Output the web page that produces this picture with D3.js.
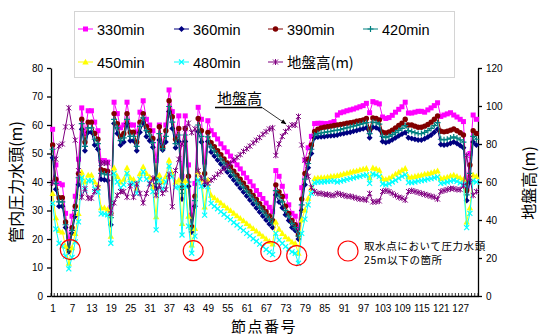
<!DOCTYPE html>
<html><head><meta charset="utf-8">
<script src="https://cdn.jsdelivr.net/npm/d3@7"></script>
<style>
body{margin:0;background:#fff;}
svg{display:block;}
text{font-family:"Liberation Sans",Arial,sans-serif;fill:#000;}
.jp{font-family:"Noto Sans CJK JP","Noto Sans",sans-serif;}
</style></head><body>
<svg id="chart" width="542" height="336"></svg>
<script>
// 節点番号 1..132
const nodes = d3.range(1, 133);
const xTickLabels = [1,7,13,19,25,31,37,43,49,55,61,67,73,79,85,91,97,103,109,115,121,127];
const leftTicks = [0,10,20,30,40,50,60,70,80];
const rightTicks = [0,20,40,60,80,100,120];

// 管内圧力水頭 (m) by elapsed time
const p330 = [58.5,46,39.5,39,29,20,28,35,48,
  66,57,65,65,61,58,47.5,47.5,47,31,68,64,59,60,
  68,60,60,57.5,64.5,68.5,62,60,58,47.5,60,53,60,72.3,64.7,56,63.2,42,63.2,46,28.4,39.5,66.2,62,47,61.5,
  58,56.6,55.1,53.4,52,50.6,49.1,47.4,46,44.6,43.1,41.5,40.1,38.6,37,35.6,34.2,32.6,31.1,29.6,
  44,42,38.5,35,32,29,28,24,38,47.7,52,56,
  60.5,60.6,60.6,60.5,60.5,60.8,61.2,63.5,64.3,64.6,65,65.3,65.6,66,66.4,66.8,67.6,64.3,68.2,67.8,67.4,62.8,62.3,62.6,63.4,64.5,65.5,66.4,68,64.2,64.2,64.5,64.8,64.8,64.5,65.3,66,66.8,67.8,63,63.5,63.9,64.3,63.5,62.8,62,61.2,
  38,50,63.5,62];
const p360 = [48.5,37.5,31.5,31.5,24,15.5,22,28,39,
  58.5,51,57.5,57.5,53,51.5,41,40.8,40.5,25,60.5,57,53,54,
  60.5,54.5,54.5,51,57.5,60.8,56,54.5,52.2,37.8,54.7,51.2,54,64.7,58.8,52,54.2,34,54.2,38.5,22.5,31.5,57.7,54,39,54.2,
  50.5,49.1,47.7,46.3,44.9,43.5,42.1,40.7,39.3,37.9,36.5,35.1,33.7,32.3,30.9,29.5,28.1,26.7,25.3,24,
  35.4,33,31,28.5,26.5,24,23,20,30,39,45,50,
  55.5,55.8,55.9,56,56.1,56.2,56.3,56.5,56.8,57,57.3,57.5,57.8,58.1,58.4,58.7,59,55.5,59.2,59,58.5,54.2,53.9,54.2,54.8,55.5,56.2,56.8,57.4,55.5,55.3,55,54.7,54.7,55.2,55.8,56.5,57.5,58.5,53.2,53,53.2,53.6,54,53.5,52.8,52,
  33.5,40,54,53];
const p390 = [53,41,34.5,34.5,26,16.5,24,31.5,43,
  62,54,61,61,57,55,44.3,44,43.8,29,64,60.5,56,57,
  64,57.5,57.5,54,61,64,59.5,58,55.3,41.3,59.4,52.2,58,68.5,62.9,55,58.8,38,58.8,42,24.3,35,62.3,58,43,57.4,
  53.8,52.4,51,49.6,48.1,46.7,45.3,43.8,42.4,41,39.6,38.1,36.7,35.3,33.9,32.4,31,29.6,28.1,26.5,
  39,36.5,34.9,31.5,29,26.5,25,21.4,34,43,48,53,
  57.7,58.5,59,59.2,59.4,59.6,59.8,60,60.2,60.4,60.6,60.8,61,61.3,61.5,61.8,62.3,58.5,62.5,62.3,61.8,57.5,57.2,57.6,58.2,59,59.8,60.6,62,60,60,59.6,59.2,59.2,59.6,60.2,61,62,63.2,57.8,57.6,57.8,58.2,58.6,58,57.3,56.5,
  37,46,58,57];
const p420 = [51.5,39.5,33,33,25,16,23,30,41.5,
  60.5,52.5,59,59,55,53.5,43,42.8,42.5,27.5,62,59,54.5,55.5,
  62,56,56,52.5,59.5,62.5,58,56.5,53.8,39.5,57,51.7,56,66.5,61,53.5,56.5,36,56.5,40,23.5,33.5,60,56,41,55.8,
  52.3,50.9,49.5,48.1,46.6,45.2,43.8,42.4,41,39.6,38.2,36.8,35.4,34,32.6,31.2,29.8,28.4,27,25.5,
  37,35,33,30,28,25.5,24,21,32,41,46.5,51.5,
  56.5,57,57.2,57.4,57.6,57.8,58,58.2,58.4,58.7,59,59.3,59.6,59.9,60.2,60.5,60.8,57,61,60.8,60.3,56,55.6,56,56.6,57.3,58.1,58.8,59.8,58,57.7,57.3,57,57,57.4,58,58.8,59.8,60.8,55,54.8,55,55.4,55.8,55.4,54.8,54,
  35.5,43,56,55];
const p450 = [36,27.5,23,22.5,17.5,11.5,17,22,29,
  43.5,40,42.5,42.5,40,39,31,31,30.5,21,45,42,40,41,
  45,41.5,41,37.8,43,45.4,43,41.8,38.4,27.8,42.5,40,42,47.7,43,40,40.7,25.5,40.5,28,17.9,23.7,43.6,41,31.3,40.7,
  35.4,34.5,33.6,32.7,31.8,30.9,30,29.1,28.2,27.3,26.4,25.5,24.6,23.7,22.8,21.9,21,20.1,19.2,18.3,
  26,23.5,22,20.8,20,19,18.5,15,26.7,30.2,34.3,38,
  41.3,41.5,41.6,41.6,41.8,42,42.1,42.3,42.6,42.9,43.2,43.5,43.8,44,44.3,44.6,44.8,41.5,45,44.7,44.2,41.3,41,41.4,42,42.8,43.5,44.2,44.8,41.8,41.8,42,42.3,42.5,42.8,43,43.3,43.6,44,41.3,41.5,41.8,42.2,42.5,42,41.5,41,
  26,31,42.5,42];
const p480 = [32.5,23.5,18.5,17.5,14,9.5,13.5,19,26,
  41.5,37,40.5,40.5,37.5,36.5,28.8,28.8,28.5,18.5,43,40,38,39,
  43,39.5,39.5,36,41,43.6,41,39.5,36.6,23.2,40.7,37.5,40,45.6,41.9,38,38.4,21.4,38.5,24.5,15,21,40.7,38.5,28.4,38.4,
  32.5,31.5,30.6,29.6,28.7,27.7,26.8,25.8,24.9,23.9,23,22,21.1,20.1,19.2,18.2,17.3,16.3,15.4,14.5,
  22,19.6,18.5,17.3,16.5,15.5,15,11.5,22,27,32,36,
  39.8,40,40,40.1,40.2,40.3,40.4,40,40.3,40.6,40.9,41.2,41.5,41.8,42,42.3,42.5,39.5,42.8,42.5,42,39.3,39,39.4,40,40.6,41.3,42,42.6,39.8,39.8,40,40.3,40.5,40.7,41,41.2,41.5,41.8,39.5,39.7,40,40.3,40.6,40.2,39.7,39.2,
  24,29,40.5,40];
// 地盤高 (m), right axis
const ground = [59.5,72,79,80,89,99,89,82,66,
  52,56.5,51.5,51.5,55,57,70,70,70,43.5,49,53,55,55,
  52,58,52,59,54,49,54,59,62,53,58,54,56,64,47,66,72,80,88,91,86,88,66,62,60,59.3,
  61,62.4,64.1,65.4,67.1,68.5,69.9,71.6,73,74.4,76.1,77.5,78.9,80.6,82,83.4,85.1,86.5,87.9,88.5,
  74,80,84,86.5,88.5,90,90,94.5,79.5,71.5,63,57,
  55,54,54,53.5,53.5,53,53,54,53.5,53,52.5,52.5,52,51.5,51,51,50.5,54,49.5,49.6,50,55,55.5,55,54,53,52,51.5,50.5,55,55.5,55,54.5,54,53.5,53,52.5,52,51,55,55.5,56,56.5,56.5,56,56,58,
  74,62,53,55];

// 取水点 (intake points where the head falls to 25 m or less)
const intakeNodes = [6, 44, 68, 76];
const intakeHeads = [16.3, 15.9, 15.6, 14.2];

const series = [
  {name:"330min", values:p330, color:"#FF00FF", mark:"square"},
  {name:"360min", values:p360, color:"#000080", mark:"diamond"},
  {name:"390min", values:p390, color:"#800000", mark:"circle"},
  {name:"420min", values:p420, color:"#008080", mark:"plus"},
  {name:"450min", values:p450, color:"#FFFF00", mark:"triangle"},
  {name:"480min", values:p480, color:"#00FFFF", mark:"cross"},
  {name:"地盤高(m)", values:ground, color:"#800080", mark:"star", right:true}
];

const svg = d3.select("#chart");
const L = 51, R = 478, T = 68, B = 296;

const x = d3.scalePoint().domain(nodes).range([L, R]).padding(0.5);
const band = d3.scaleBand().domain(nodes).range([L, R]);
const yL = d3.scaleLinear().domain([0, 80]).range([B, T]);
const yR = d3.scaleLinear().domain([0, 120]).range([B, T]);

function drawMark(g, type, color) {
  if (type === "square") {
    g.append("rect").attr("x",-2.5).attr("y",-2.5).attr("width",5).attr("height",5).attr("fill",color);
  } else if (type === "diamond") {
    g.append("path").attr("d","M0,-3L3,0L0,3L-3,0Z").attr("fill",color);
  } else if (type === "circle") {
    g.append("circle").attr("r",2.7).attr("fill",color);
  } else if (type === "plus") {
    g.append("path").attr("d","M-3,0H3M0,-3V3").attr("stroke",color).attr("stroke-width",1.2);
  } else if (type === "triangle") {
    g.append("path").attr("d","M0,-3.2L3.2,2.6L-3.2,2.6Z").attr("fill",color);
  } else if (type === "cross") {
    g.append("path").attr("d","M-2.5,-2.5L2.5,2.5M-2.5,2.5L2.5,-2.5").attr("stroke",color).attr("stroke-width",1.2);
  } else if (type === "star") {
    g.append("path").attr("d","M-2.5,-2.5L2.5,2.5M-2.5,2.5L2.5,-2.5M0,-3V3").attr("stroke",color).attr("stroke-width",1);
  }
}

// axes
const axL = svg.append("g").attr("transform",`translate(${L},0)`)
  .call(d3.axisLeft(yL).tickValues(leftTicks).tickSize(4).tickSizeOuter(0).tickPadding(4));
const axR = svg.append("g").attr("transform",`translate(${R},0)`)
  .call(d3.axisRight(yR).tickValues(rightTicks).tickSize(4).tickSizeOuter(0).tickPadding(4));
const axB = svg.append("g").attr("transform",`translate(0,${B})`)
  .call(d3.axisBottom(x).tickValues(xTickLabels).tickSize(0).tickSizeOuter(0));
[axL, axR, axB].forEach(a => {
  a.selectAll("text").attr("font-size","10px").attr("font-family","'Liberation Sans',Arial,sans-serif").attr("fill","#000");
  a.selectAll("path,line").attr("stroke","#000").attr("stroke-width",1.3);
});
axB.selectAll("text").attr("dy", null).attr("y", 16);
// category separators on the bottom axis
svg.append("g").selectAll("line").data(nodes.concat([null])).join("line")
  .attr("x1", d => d === null ? R : band(d)).attr("x2", d => d === null ? R : band(d))
  .attr("y1", B).attr("y2", B - 3).attr("stroke","#000").attr("stroke-width",0.8);

// series lines and markers
series.forEach(s => {
  const y = s.right ? yR : yL;
  const line = d3.line().x((d,i) => x(nodes[i])).y(d => y(d));
  const g = svg.append("g");
  g.append("path").datum(s.values).attr("d", line).attr("fill","none")
    .attr("stroke", s.color).attr("stroke-width", 1);
  g.selectAll("g.m").data(s.values).join("g").attr("class","m")
    .attr("transform",(d,i) => `translate(${x(nodes[i])},${y(d)})`)
    .each(function(){ drawMark(d3.select(this), s.mark, s.color); });
});

// intake point rings
svg.append("g").selectAll("circle").data(intakeNodes).join("circle")
  .attr("cx", (d) => x(d) + 1.5).attr("cy", (d,i) => yL(intakeHeads[i]))
  .attr("r", 10).attr("fill","none").attr("stroke","#FF0000").attr("stroke-width",1.2);

// ring legend note
svg.append("circle").attr("cx",348).attr("cy",251).attr("r",10)
  .attr("fill","none").attr("stroke","#FF0000").attr("stroke-width",1.2);
svg.append("text").attr("class","jp").attr("x",364).attr("y",250).attr("font-size","10.5px")
  .attr("letter-spacing","0.6px").text("取水点において圧力水頭");
svg.append("text").attr("class","jp").attr("x",364).attr("y",264).attr("font-size","10.5px")
  .attr("letter-spacing","0.6px").text("25m以下の箇所");

// ground level callout
svg.append("text").attr("class","jp").attr("x",217).attr("y",104).attr("font-size","15px").text("地盤高");
svg.append("line").attr("x1",215).attr("x2",262).attr("y1",107.5).attr("y2",107.5).attr("stroke","#000").attr("stroke-width",1.5);
svg.append("defs").append("marker").attr("id","ah").attr("viewBox","0 0 10 10").attr("refX",9).attr("refY",5)
  .attr("markerWidth",7).attr("markerHeight",7).attr("orient","auto")
  .append("path").attr("d","M0,1L10,5L0,9Z").attr("fill","#000");
svg.append("line").attr("x1",262).attr("y1",107.5).attr("x2",286).attr("y2",124)
  .attr("stroke","#000").attr("stroke-width",0.8).attr("marker-end","url(#ah)");

// axis titles
svg.append("text").attr("class","jp").attr("transform","translate(22,182) rotate(-90)")
  .attr("text-anchor","middle").attr("font-size","16px").text("管内圧力水頭(m)");
svg.append("text").attr("class","jp").attr("transform","translate(535,183) rotate(-90)")
  .attr("text-anchor","middle").attr("font-size","16px").text("地盤高(m)");
svg.append("text").attr("class","jp").attr("x",264).attr("y",331.5)
  .attr("text-anchor","middle").attr("font-size","15px").attr("letter-spacing","1.5px").text("節点番号");

// legend
const lg = svg.append("g");
lg.append("rect").attr("x",74.5).attr("y",11.5).attr("width",380).attr("height",66)
  .attr("fill","#fff").attr("stroke","#d4d4d4").attr("stroke-width",1);
const legendX = [78,174,268,363];
const legendY = [29,62];
series.forEach((s,i) => {
  const lx = legendX[i % 4], ly = legendY[Math.floor(i / 4)];
  const item = lg.append("g").attr("transform",`translate(${lx},${ly})`);
  item.append("line").attr("x1",0).attr("x2",15).attr("stroke",s.color).attr("stroke-width",1);
  drawMark(item.append("g").attr("transform","translate(7.5,0)"), s.mark, s.color);
  item.append("text").attr("x",19).attr("y",5.5).attr("font-size","14.5px")
    .attr("class", s.right ? "jp" : null).text(s.name);
});
</script>
</body></html>
